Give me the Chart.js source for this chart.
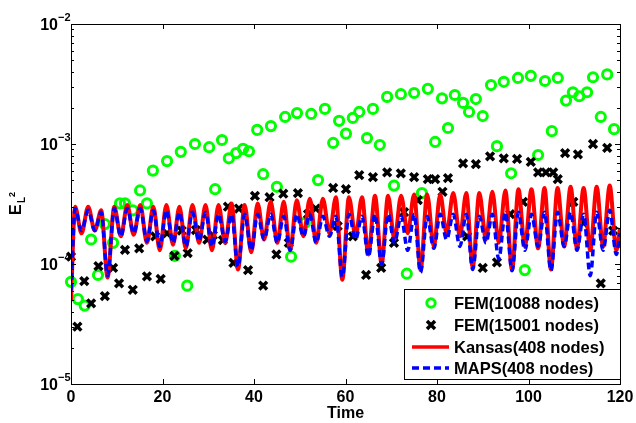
<!DOCTYPE html>
<html>
<head>
<meta charset="utf-8">
<script src="https://cdn.jsdelivr.net/npm/chart.js@4"></script>
<style>
  html, body { margin: 0; padding: 0; background: #fff; }
  #wrap { width: 636px; height: 423px; }
</style>
</head>
<body>
<div id="wrap"><canvas id="myChart" width="636" height="423"></canvas></div>
<script>
// axis ticks
const xTicks = [0, 20, 40, 60, 80, 100, 120];
const yExponents = [-5, -4, -3, -2];

// FEM(10088 nodes) - green circles
const femA_t = [0, 1.5, 3.0, 4.4, 5.9, 7.4, 9.2, 10.7, 11.8, 13.5, 15.1, 16.6, 17.9, 21.0, 22.7, 24.0,
  25.4, 27.1, 30.2, 31.5, 33.0, 34.5, 36.1, 37.6, 38.9, 40.7, 42.0, 43.7, 45.0, 46.8, 48.1, 49.4,
  51.1, 52.5, 54.0, 55.5, 57.3, 58.6, 60.1, 61.6, 63.0, 64.7, 66.0, 67.5, 69.1, 70.6, 72.1, 73.4,
  75.0, 76.7, 78.0, 79.6, 81.1, 82.4, 83.9, 85.7, 87.0, 88.5, 90.0, 91.8, 93.1, 94.6, 96.2, 97.7,
  99.2, 100.5, 102.1, 103.6, 105.1, 106.4, 108.2, 109.7, 111.1, 112.8, 114.1, 115.8, 117.2, 118.7];
const femA_e = [7.1e-5, 5.1e-5, 4.5e-5, 1.6e-4, 8.1e-5, 2.15e-4, 1.5e-4, 3.2e-4, 3.2e-4, 2.8e-4, 4.1e-4, 3.2e-4, 6.0e-4, 7.2e-4, 1.17e-4, 8.6e-4,
  6.6e-5, 1.0e-3, 9.4e-4, 4.2e-4, 1.08e-3, 7.6e-4, 8.4e-4, 9.1e-4, 8.7e-4, 1.31e-3, 5.6e-4, 1.41e-3, 4.4e-4, 1.68e-3, 1.15e-4, 1.81e-3,
  2.2e-4, 1.78e-3, 5.0e-4, 1.96e-3, 1.02e-3, 1.56e-3, 1.22e-3, 1.65e-3, 1.85e-3, 1.12e-3, 1.96e-3, 9.8e-4, 2.47e-3, 4.5e-4, 2.6e-3, 8.3e-5,
  2.66e-3, 3.9e-4, 2.88e-3, 1.04e-3, 2.4e-3, 1.36e-3, 2.56e-3, 2.2e-3, 1.85e-3, 2.37e-3, 1.71e-3, 3.1e-3, 9.6e-4, 3.3e-3, 5.7e-4, 3.55e-3,
  8.9e-5, 3.7e-3, 8.1e-4, 3.35e-3, 1.28e-3, 3.55e-3, 2.3e-3, 2.7e-3, 2.5e-3, 2.7e-3, 3.6e-3, 1.68e-3, 3.8e-3, 1.33e-3];

// FEM(15001 nodes) - black crosses
const femB_t = [0, 1.4, 2.9, 4.4, 6.0, 7.4, 9.2, 10.5, 11.8, 13.5, 14.9, 16.6, 18.4, 19.6, 21.0, 22.6,
  24.2, 25.5, 27.3, 29.8, 31.0, 33.2, 34.3, 35.5, 36.7, 38.7, 40.2, 42.0, 43.4, 44.9, 46.4, 47.6,
  49.6, 51.8, 53.5, 57.3, 58.3, 60.1, 61.6, 63.0, 64.5, 66.0, 67.8, 69.1, 70.6, 72.1, 72.8, 75.0,
  75.8, 78.0, 79.6, 81.2, 82.4, 85.7, 86.6, 88.5, 90.0, 91.6, 93.1, 94.6, 96.0, 97.5, 98.8, 100.5,
  102.1, 103.8, 105.4, 106.4, 108.0, 109.8, 110.8, 112.0, 114.1, 115.8, 117.2, 118.5];
const femB_e = [1.15e-4, 3.0e-5, 7.2e-5, 4.7e-5, 9.6e-5, 5.4e-5, 9.3e-5, 6.9e-5, 1.31e-4, 6.1e-5, 1.35e-4, 7.9e-5, 1.7e-4, 7.5e-5, 1.8e-4, 1.17e-4,
  1.9e-4, 1.23e-4, 1.92e-4, 1.6e-4, 1.74e-4, 1.58e-4, 3.0e-4, 1.02e-4, 2.9e-4, 8.9e-5, 3.7e-4, 6.6e-5, 3.6e-4, 1.2e-4, 3.85e-4, 1.5e-4,
  3.9e-4, 2.6e-4, 2.9e-4, 4.3e-4, 2.07e-4, 4.2e-4, 1.7e-4, 5.5e-4, 8.1e-5, 5.3e-4, 9.3e-5, 5.8e-4, 1.5e-4, 5.7e-4, 2.7e-4, 5.3e-4,
  3.4e-4, 5.1e-4, 5.1e-4, 4.0e-4, 5.2e-4, 6.9e-4, 1.7e-4, 6.8e-4, 9.3e-5, 7.9e-4, 1.03e-4, 7.6e-4, 2.6e-4, 7.5e-4, 3.3e-4, 7.1e-4,
  5.8e-4, 5.8e-4, 5.8e-4, 5.1e-4, 8.4e-4, 3.3e-4, 8.2e-4, 2.2e-4, 1.0e-3, 6.9e-5, 9.3e-4, 1.9e-4];

// Kansas and MAPS (408 nodes) - read at crests and dips
const lineT = [0,
  0.9, 2.3, 3.75, 5.2, 6.6, 8.0, 9.45, 10.9, 12.3, 13.7, 15.15, 16.6, 18.0, 19.4, 20.85, 22.3,
  23.7, 25.1, 26.55, 28.0, 29.4, 30.8, 32.25, 33.7, 35.1, 36.5, 37.95, 39.4, 40.8, 42.2, 43.65, 45.1,
  46.5, 47.9, 49.35, 50.8, 52.2, 53.6, 55.05, 56.5, 57.9, 59.3, 60.75, 62.2, 63.6, 65.0, 66.45, 67.9,
  69.3, 70.7, 72.15, 73.6, 75.0, 76.4, 77.85, 79.3, 80.7, 82.1, 83.55, 85.0, 86.4, 87.8, 89.25, 90.7,
  92.1, 93.5, 94.95, 96.4, 97.8, 99.2, 100.65, 102.1, 103.5, 104.9, 106.35, 107.8, 109.2, 110.6, 112.05, 113.5,
  114.9, 116.3, 117.75, 119.2, 120];
const kansas = [5.0e-5,
  3.0e-4, 1.8e-4, 3.0e-4, 1.9e-4, 2.8e-4, 7.7e-5, 3.0e-4, 1.7e-4, 3.1e-4, 1.75e-4, 3.1e-4, 1.5e-4, 3.0e-4, 1.3e-4, 3.1e-4, 1.45e-4,
  3.0e-4, 1.35e-4, 3.1e-4, 1.5e-4, 3.1e-4, 1.3e-4, 3.1e-4, 1.5e-4, 3.2e-4, 9.0e-5, 3.1e-4, 1.25e-4, 3.2e-4, 1.6e-4, 3.3e-4, 1.5e-4,
  3.3e-4, 1.3e-4, 3.4e-4, 1.7e-4, 3.5e-4, 1.5e-4, 3.5e-4, 1.8e-4, 3.6e-4, 7.4e-5, 3.6e-4, 1.7e-4, 3.6e-4, 1.2e-4, 3.7e-4, 1.0e-4,
  3.7e-4, 1.6e-4, 3.7e-4, 1.8e-4, 3.8e-4, 8.9e-5, 3.8e-4, 1.4e-4, 3.8e-4, 1.8e-4, 3.9e-4, 1.7e-4, 3.9e-4, 9.4e-5, 3.9e-4, 1.6e-4,
  4.0e-4, 1.5e-4, 4.1e-4, 8.9e-5, 4.2e-4, 1.4e-4, 4.2e-4, 1.35e-4, 4.3e-4, 9.0e-5, 4.3e-4, 1.4e-4, 4.4e-4, 1.35e-4, 4.3e-4, 1.3e-4,
  4.4e-4, 1.4e-4, 4.5e-4, 1.3e-4, 2.0e-4];
const maps = [6.0e-5,
  2.9e-4, 1.9e-4, 2.8e-4, 1.9e-4, 2.7e-4, 8.0e-5, 2.9e-4, 1.7e-4, 2.9e-4, 1.8e-4, 2.9e-4, 1.55e-4, 2.8e-4, 1.4e-4, 2.8e-4, 1.5e-4,
  2.7e-4, 1.4e-4, 2.7e-4, 1.55e-4, 2.7e-4, 1.4e-4, 2.6e-4, 1.55e-4, 2.6e-4, 9.5e-5, 2.6e-4, 1.3e-4, 2.6e-4, 1.6e-4, 2.6e-4, 1.5e-4,
  2.5e-4, 1.3e-4, 2.6e-4, 1.7e-4, 2.6e-4, 1.5e-4, 2.5e-4, 1.7e-4, 2.5e-4, 7.8e-5, 2.6e-4, 1.6e-4, 2.5e-4, 1.15e-4, 2.6e-4, 1.0e-4,
  2.6e-4, 1.5e-4, 2.5e-4, 1.3e-4, 2.6e-4, 8.5e-5, 2.5e-4, 1.35e-4, 2.6e-4, 1.6e-4, 2.6e-4, 1.4e-4, 2.6e-4, 9.0e-5, 2.5e-4, 1.5e-4,
  2.6e-4, 1.1e-4, 2.7e-4, 8.8e-5, 2.7e-4, 1.3e-4, 2.6e-4, 1.4e-4, 2.7e-4, 8.8e-5, 2.7e-4, 1.4e-4, 2.7e-4, 1.3e-4, 2.6e-4, 8.0e-5,
  2.7e-4, 1.3e-4, 2.8e-4, 1.2e-4, 1.8e-4];

const labels = ["FEM(10088 nodes)", "FEM(15001 nodes)", "Kansas(408 nodes)", "MAPS(408 nodes)"];

const GREEN = "#00ff00";
const RED = "#ff0000";
const BLUE = "#0000ff";
const FONT = '"Liberation Sans", Arial, sans-serif';

const pts = (xs, ys) => xs.map((x, i) => ({ x: x, y: ys[i] }));

// frame, inward ticks, labels, axis titles, legend box (matlab look)
const matlabAxes = {
  id: "matlabAxes",
  afterDraw(chart) {
    const c = chart.ctx;
    const a = chart.chartArea;
    const xs = chart.scales.x;
    const ys = chart.scales.y;
    c.save();
    c.strokeStyle = "#000";
    c.fillStyle = "#000";
    c.lineWidth = 1;
    c.strokeRect(a.left + 0.5, a.top + 0.5, a.right - a.left, a.bottom - a.top);

    c.beginPath();
    xTicks.forEach((v) => {
      const px = Math.round(xs.getPixelForValue(v)) + 0.5;
      c.moveTo(px, a.bottom); c.lineTo(px, a.bottom - 5);
      c.moveTo(px, a.top); c.lineTo(px, a.top + 5);
    });
    yExponents.forEach((e) => {
      for (let m = 1; m <= 9; m++) {
        if (e === -2 && m > 1) break;
        const py = Math.round(ys.getPixelForValue(m * Math.pow(10, e))) + 0.5;
        const len = m === 1 ? 5 : 3;
        c.moveTo(a.left, py); c.lineTo(a.left + len, py);
        c.moveTo(a.right, py); c.lineTo(a.right - len, py);
      }
    });
    c.stroke();

    c.font = "bold 16px " + FONT;
    c.textAlign = "center";
    c.textBaseline = "middle";
    xTicks.forEach((v) => c.fillText(String(v), xs.getPixelForValue(v), 398));
    c.fillText("Time", (a.left + a.right) / 2, 414);

    yExponents.forEach((e) => {
      const py = ys.getPixelForValue(Math.pow(10, e));
      c.font = "bold 16px " + FONT;
      c.textAlign = "right";
      c.textBaseline = "middle";
      c.fillText("10", 58, py + 2);
      c.font = "bold 11px " + FONT;
      c.textAlign = "left";
      c.fillText("\u2212" + Math.abs(e), 58, py - 6);
    });

    // y title E_{L^2}
    c.save();
    c.translate(21, 215);
    c.rotate(-Math.PI / 2);
    c.textAlign = "left";
    c.textBaseline = "alphabetic";
    c.font = "bold 16px " + FONT;
    c.fillText("E", 0, 0);
    c.font = "bold 10px " + FONT;
    c.fillText("L", 12, 4);
    c.font = "bold 9px " + FONT;
    c.fillText("2", 18, -6);
    c.restore();

    // legend
    const L = { x: 404, y: 289, w: 216, h: 90 };
    c.fillStyle = "#fff";
    c.fillRect(L.x, L.y, L.w, L.h);
    c.strokeStyle = "#000";
    c.lineWidth = 1;
    c.strokeRect(L.x + 0.5, L.y + 0.5, L.w, L.h);
    const rows = [303, 325, 347, 368];
    const sx = 431;

    c.strokeStyle = GREEN;
    c.lineWidth = 3;
    c.beginPath();
    c.arc(sx, rows[0], 4.2, 0, Math.PI * 2);
    c.stroke();

    c.strokeStyle = "#000";
    c.lineWidth = 3.5;
    c.beginPath();
    c.moveTo(sx - 4, rows[1] - 4); c.lineTo(sx + 4, rows[1] + 4);
    c.moveTo(sx + 4, rows[1] - 4); c.lineTo(sx - 4, rows[1] + 4);
    c.stroke();

    c.strokeStyle = RED;
    c.lineWidth = 3.5;
    c.beginPath();
    c.moveTo(412, rows[2]); c.lineTo(449, rows[2]);
    c.stroke();

    c.strokeStyle = BLUE;
    c.setLineDash([7, 4]);
    c.beginPath();
    c.moveTo(412, rows[3]); c.lineTo(449, rows[3]);
    c.stroke();
    c.setLineDash([]);

    c.fillStyle = "#000";
    c.font = "bold 16.5px " + FONT;
    c.textAlign = "left";
    c.textBaseline = "middle";
    labels.forEach((t, i) => c.fillText(t, 454, rows[i] + 1));
    c.restore();
  }
};

const ctx = document.getElementById("myChart");

const myChart = new Chart(ctx, {
  type: "scatter",
  data: {
    datasets: [
      {
        label: labels[0],
        data: pts(femA_t, femA_e),
        pointStyle: "circle",
        pointRadius: 4.6,
        borderWidth: 3,
        borderColor: GREEN,
        backgroundColor: "rgba(0,0,0,0)",
        showLine: false,
        clip: false,
        order: 4,
      },
      {
        label: labels[1],
        data: pts(femB_t, femB_e),
        pointStyle: "crossRot",
        pointRadius: 5.5,
        borderWidth: 3.5,
        borderColor: "#000",
        backgroundColor: "#000",
        showLine: false,
        clip: false,
        order: 3,
      },
      {
        label: labels[2],
        data: pts(lineT, kansas),
        showLine: true,
        pointRadius: 0,
        borderColor: RED,
        borderWidth: 4,
        cubicInterpolationMode: "monotone",
        order: 2,
      },
      {
        label: labels[3],
        data: pts(lineT, maps),
        showLine: true,
        pointRadius: 0,
        borderColor: BLUE,
        borderWidth: 3.5,
        borderDash: [7, 4],
        cubicInterpolationMode: "monotone",
        order: 1,
      },
    ],
  },
  options: {
    responsive: false,
    animation: false,
    devicePixelRatio: 1,
    layout: { padding: { left: 71, right: 16, top: 24, bottom: 39 } },
    plugins: { legend: { display: false }, tooltip: { enabled: false } },
    scales: {
      x: { type: "linear", min: 0, max: 120, display: false },
      y: { type: "logarithmic", min: 1e-5, max: 1e-2, display: false },
    },
  },
  plugins: [matlabAxes],
});
</script>
</body>
</html>
